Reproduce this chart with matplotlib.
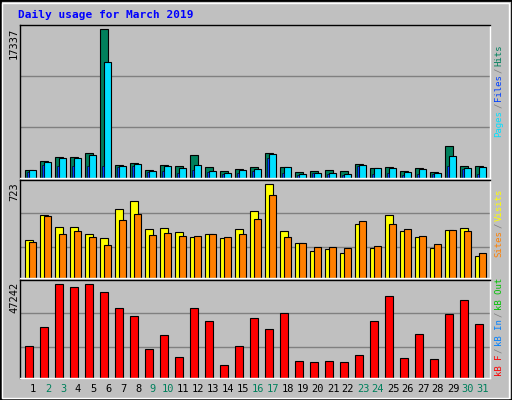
import matplotlib
matplotlib.use("Agg")
import matplotlib.pyplot as plt
from matplotlib.patches import Rectangle

days = list(range(1, 32))
weekend = [2, 3, 9, 10, 16, 17, 23, 24, 30, 31]
hits = [981, 2039, 2432, 2432, 2863, 17337, 1569, 1804, 981, 1569, 1451, 2628, 1333, 863, 1098, 1333,
        2863, 1333, 745, 863, 981, 863, 1686, 1216, 1333, 863, 1216, 745, 3687, 1451, 1451]
files = [981, 1922, 2275, 2275, 2628, 13570, 1451, 1686, 863, 1451, 1216, 1569, 863, 628, 981, 1098,
         2745, 1333, 510, 628, 628, 510, 1569, 1216, 1216, 745, 1098, 628, 2510, 1216, 1333]
pages = [706, 1569, 1451, 1373, 1451, 1451, 1294, 1451, 706, 863, 588, 981, 706, 471, 588, 784,
         2275, 588, 392, 588, 510, 392, 1451, 471, 588, 392, 510, 510, 1451, 1098, 510]
visits = [291, 487, 393, 393, 338, 306, 534, 597, 377, 385, 354, 314, 338, 306, 377, 519,
          723, 361, 267, 212, 220, 196, 417, 228, 487, 361, 314, 228, 369, 385, 173]
sites = [275, 479, 338, 361, 314, 251, 448, 495, 330, 346, 322, 322, 338, 314, 338, 456,
         644, 314, 267, 236, 236, 228, 440, 244, 417, 377, 322, 259, 369, 361, 196]
kbytes = [16206, 25516, 47242, 45690, 47242, 43103, 35343, 31206, 14655, 21896, 10517, 35343, 28620,
          6379, 16206, 30172, 24482, 32758, 8448, 7931, 8448, 7931, 11551, 28620, 41551, 10000,
          22413, 9483, 32240, 39482, 27068]

BG = "#C0C0C0"
W, H = 512, 400
fig = plt.figure(figsize=(5.12, 4.0), dpi=100, facecolor=BG)
mono = "DejaVu Sans Mono"

fig.patches.append(Rectangle((0, 0), 1, 1, transform=fig.transFigure, fill=False,
                             edgecolor="black", linewidth=2))
fig.patches.append(Rectangle((2/W, 2/H), 1-5/W, 1-5/H, transform=fig.transFigure, fill=False,
                             edgecolor="white", linewidth=1))


def panel(ytop, ybot):
    ax = fig.add_axes([20/W, (H-ybot)/H, 470/W, (ybot-ytop)/H])
    ax.set_facecolor(BG)
    ax.set_xlim(0, 470/15)
    ax.set_xticks([]); ax.set_yticks([])
    for s in ["left", "top"]:
        ax.spines[s].set_color("black")
    for s in ["right", "bottom"]:
        ax.spines[s].set_color("white")
    for sp in ax.spines.values():
        sp.set_linewidth(1)
    return ax


x0 = [d - 1 + 1/3 for d in days]
ek = dict(edgecolor="black", linewidth=0.8, align="edge")

ax1 = panel(25, 178)
m1 = 17837
ax1.set_ylim(0, m1)
for g in (m1/3, 2*m1/3):
    ax1.axhline(g, color="#808080", lw=1, zorder=0)
ax1.bar(x0, hits, width=8/15, color="#00805C", **ek)
ax1.bar([x + 4/15 for x in x0], files, width=7/15, color="#00E0FF", **ek)
ax1.bar([x + 2/15 for x in x0], pages, width=2/15, color="#0040FF", edgecolor="black", linewidth=0.4, align="edge")

ax2 = panel(180, 278)
m2 = 756
ax2.set_ylim(0, m2)
for g in (0.32*m2, 0.66*m2):
    ax2.axhline(g, color="#808080", lw=1, zorder=0)
ax2.bar(x0, visits, width=8/15, color="#FFFF00", **ek)
ax2.bar([x + 4/15 for x in x0], sites, width=7/15, color="#FF8000", **ek)

ax3 = panel(280, 378)
m3 = 49400
ax3.set_ylim(0, m3)
for g in (0.32*m3, 0.66*m3):
    ax3.axhline(g, color="#808080", lw=1, zorder=0)
ax3.bar(x0, kbytes, width=8/15, color="#FF0000", **ek)

for d in days:
    xp = 20 + 15*(d - 1) + 13
    fig.text(xp/W, 1 - 389/H, str(d), ha="center", va="center", family=mono, fontsize=7.5,
             color="#00805C" if d in weekend else "black")

fig.text(18/W, 1 - 15/H, "Daily usage for March 2019", ha="left", va="center",
         family=mono, fontsize=8, fontweight="bold", color="#0000FF")

for lab, yt in (("17337", 28), ("723", 182), ("47242", 282)):
    fig.text(14/W, 1 - yt/H, lab, rotation=90, ha="center", va="top", family=mono, fontsize=7.5)


def side(parts, ybottom, fs=6.5):
    y = ybottom
    cw = 0.602 * fs * 100 / 72
    for txt, col in parts:
        fig.text(499/W, 1 - y/H, txt, rotation=90, ha="center", va="bottom",
                 family=mono, fontsize=fs, color=col)
        y -= cw*len(txt) + 1.5


side([("Pages", "#00E0FF"), ("/", "#808080"), ("Files", "#0040FF"), ("/", "#808080"),
      ("Hits", "#00805C")], 137)
side([("Sites", "#FF8000"), ("/", "#808080"), ("Visits", "#FFFF00")], 257)
side([("kB F", "#FF0000"), ("/", "#808080"), ("kB In", "#0080FF"), ("/", "#808080"),
      ("kB Out", "#00C000")], 376)

fig.savefig("out.png", dpi=100, facecolor=BG)
